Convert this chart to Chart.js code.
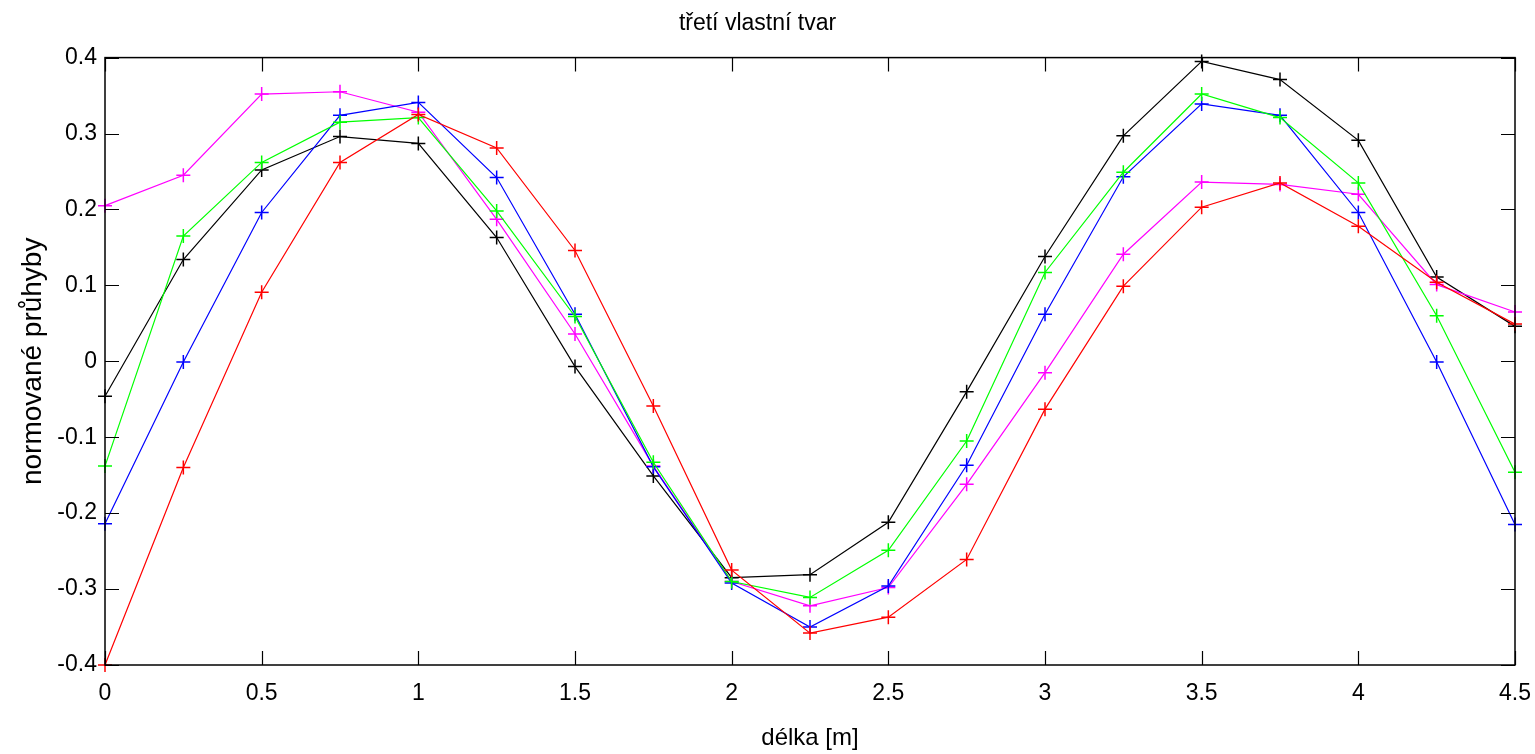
<!DOCTYPE html>
<html lang="cs">
<head>
<meta charset="utf-8">
<style>
  html, body { margin: 0; padding: 0; background: #fff; }
  #wrap { width: 1535px; height: 754px; }
</style>
</head>
<body>
<div id="wrap"><canvas id="myChart" width="1535" height="754"></canvas></div>
<script src="https://cdn.jsdelivr.net/npm/chart.js"></script>
<script>
// x positions along the beam [m]
const delka = [0, 0.25, 0.5, 0.75, 1, 1.25, 1.5, 1.75, 2, 2.25, 2.5, 2.75, 3, 3.25, 3.5, 3.75, 4, 4.25, 4.5];

// normalised deflections
const cervena = [-0.400, -0.140, 0.091, 0.262, 0.325, 0.281, 0.146, -0.059, -0.275, -0.358, -0.337, -0.261, -0.063, 0.099, 0.203, 0.235, 0.178, 0.104, 0.049];
const zelena  = [-0.138, 0.165, 0.262, 0.315, 0.321, 0.198, 0.059, -0.133, -0.290, -0.311, -0.249, -0.105, 0.117, 0.249, 0.352, 0.321, 0.235, 0.060, -0.146];
const modra   = [-0.214, -0.001, 0.196, 0.324, 0.341, 0.242, 0.062, -0.139, -0.292, -0.350, -0.296, -0.137, 0.062, 0.243, 0.339, 0.324, 0.196, -0.001, -0.215];
const fialova = [0.205, 0.245, 0.352, 0.355, 0.328, 0.187, 0.036, -0.138, -0.290, -0.322, -0.298, -0.162, -0.015, 0.141, 0.236, 0.233, 0.220, 0.101, 0.065];
const cerna   = [-0.046, 0.134, 0.252, 0.296, 0.287, 0.163, -0.007, -0.151, -0.285, -0.281, -0.212, -0.040, 0.138, 0.297, 0.395, 0.371, 0.291, 0.111, 0.046];

const xTicks = [0, 0.5, 1, 1.5, 2, 2.5, 3, 3.5, 4, 4.5];
const yTicks = [-0.4, -0.3, -0.2, -0.1, 0, 0.1, 0.2, 0.3, 0.4];

function series(vals, color) {
  return {
    data: delka.map((x, i) => ({ x: x, y: vals[i] })),
    borderColor: color,
    backgroundColor: color,
    borderWidth: 1.2,
    pointStyle: 'cross',
    pointRadius: 7,
    pointBorderWidth: 1.5,
    pointHoverRadius: 7,
    tension: 0,
    fill: false,
    clip: false
  };
}

// MATLAB style box with inward ticks on all four sides
const ramecek = {
  id: 'ramecek',
  afterDraw(chart) {
    const { ctx, chartArea: a, scales: { x, y } } = chart;
    const len = 14;
    ctx.save();
    ctx.strokeStyle = '#000';
    ctx.lineWidth = 1.5;
    ctx.strokeRect(a.left, a.top, a.right - a.left, a.bottom - a.top);
    ctx.lineWidth = 1.2;
    ctx.beginPath();
    xTicks.forEach(v => {
      const px = Math.round(x.getPixelForValue(v)) + 0.5;
      ctx.moveTo(px, a.bottom); ctx.lineTo(px, a.bottom - len);
      ctx.moveTo(px, a.top); ctx.lineTo(px, a.top + len);
    });
    yTicks.forEach(v => {
      const py = Math.round(y.getPixelForValue(v)) + 0.5;
      ctx.moveTo(a.left, py); ctx.lineTo(a.left + len, py);
      ctx.moveTo(a.right, py); ctx.lineTo(a.right - len, py);
    });
    ctx.stroke();
    ctx.restore();
  }
};

const font = 'Liberation Sans, Arial, sans-serif';

new Chart(document.getElementById('myChart'), {
  type: 'line',
  data: {
    datasets: [
      series(cervena, '#ff0000'),
      series(zelena, '#00ff00'),
      series(modra, '#0000ff'),
      series(fialova, '#ff00ff'),
      series(cerna, '#000000')
    ]
  },
  options: {
    responsive: false,
    animation: false,
    layout: { padding: { left: 0, right: 20, top: 0, bottom: 0 } },
    plugins: {
      legend: { display: false },
      tooltip: { enabled: false },
      title: {
        display: true,
        text: 'třetí vlastní tvar',
        color: '#000',
        font: { family: font, size: 23, weight: 'normal' },
        padding: { top: 10, bottom: 20 }
      }
    },
    scales: {
      x: {
        type: 'linear',
        min: 0,
        max: 4.5,
        afterFit: s => { s.height = 89; s.paddingLeft = 0; s.paddingRight = 0; },
        afterBuildTicks: s => { s.ticks = xTicks.map(v => ({ value: v })); },
        grid: { display: false, drawTicks: false },
        border: { display: false },
        ticks: {
          color: '#000',
          padding: 15,
          maxRotation: 0,
          font: { family: font, size: 23 },
          callback: v => String(v)
        },
        title: {
          display: true,
          text: 'délka [m]',
          color: '#000',
          font: { family: font, size: 24 },
          padding: { top: 4, bottom: 1 }
        }
      },
      y: {
        type: 'linear',
        min: -0.4,
        max: 0.4,
        afterFit: s => { s.width = 105; },
        afterBuildTicks: s => { s.ticks = yTicks.map(v => ({ value: v })); },
        grid: { display: false, drawTicks: false },
        border: { display: false },
        ticks: {
          color: '#000',
          padding: 8,
          font: { family: font, size: 23 },
          callback: v => String(Math.round(v * 10) / 10)
        },
        title: {
          display: true,
          text: 'normované průhyby',
          color: '#000',
          font: { family: font, size: 28 },
          padding: { top: 16, bottom: 0 }
        }
      }
    }
  },
  plugins: [ramecek]
});
</script>
</body>
</html>
